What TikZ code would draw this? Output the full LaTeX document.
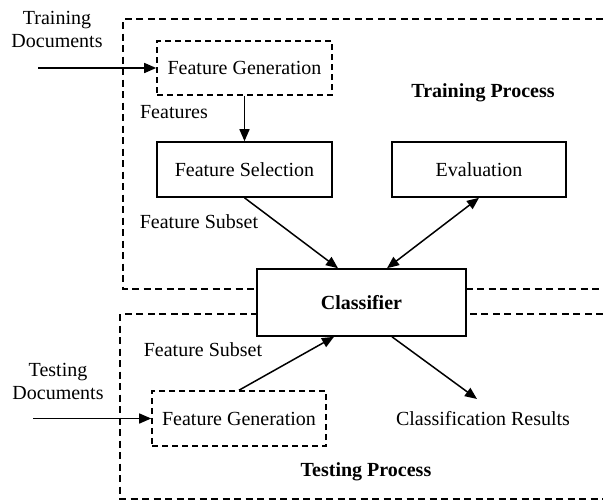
\documentclass[tikz,border=0pt]{standalone}
\usepackage{fontspec}
\setmainfont{Liberation Serif}
\usetikzlibrary{arrows.meta}

\tikzset{
  txt/.style={font=\fontsize{20}{23}\selectfont, inner sep=0pt},
  stepbox/.style={draw, line width=1.6pt, fill=white, font=\fontsize{20}{23}\selectfont, inner sep=0pt},
  dashbox/.style={stepbox, dash pattern=on 6pt off 4pt},
  region/.style={line width=1.6pt, dash pattern=on 7pt off 4.5pt},
  tip/.style={Triangle[length=12pt,width=10pt]},
  arr/.style={line width=1.5pt, -{Triangle[length=12pt,width=10pt]}},
  biarr/.style={line width=1.5pt, {Triangle[length=12pt,width=10pt]}-{Triangle[length=12pt,width=10pt]}}
}

\begin{document}
\begin{tikzpicture}[x=1pt, y=-1pt]
\clip (0,0) rectangle (603,501);
\fill[white] (0,0) rectangle (603,501);

% process regions (open to the right)
\draw[region] (603,19) -- (123,19) -- (123,289) -- (603,289);
\draw[region] (603,314) -- (120,314) -- (120,499) -- (603,499);

% training side
\node[dashbox, minimum width=175pt, minimum height=54pt] (fgA) at (244.5,68) {Feature Generation};
\node[stepbox, minimum width=175pt, minimum height=55pt] (fsel) at (244.5,169.5) {Feature Selection};
\node[stepbox, minimum width=174pt, minimum height=55pt] (eval) at (479,169.5) {Evaluation};

% classifier
\node[stepbox, minimum width=209pt, minimum height=67pt, font=\fontsize{20}{23}\selectfont\bfseries] (clsf) at (361.5,302.5) {Classifier};

% testing side
\node[dashbox, minimum width=174pt, minimum height=55pt] (fgB) at (239,418.5) {Feature Generation};

% labels
\node[txt, align=center] (trdocs) at (57,29.5) {Training\\[0pt]Documents};
\node[txt] (featlbl) at (174,112) {Features};
\node[txt] (subA) at (199,222) {Feature Subset};
\node[txt, font=\fontsize{20}{23}\selectfont\bfseries] (trproc) at (483,93) {Training Process};
\node[txt, align=center] (tedocs) at (58,381.5) {Testing\\[0pt]Documents};
\node[txt] (subB) at (203,350) {Feature Subset};
\node[txt] (res) at (483,419) {Classification Results};
\node[txt, font=\fontsize{20}{23}\selectfont\bfseries] (teproc) at (366,472) {Testing Process};

% inputs
\coordinate (trIn) at (38,68);
\coordinate (teIn) at (33,418.5);
\coordinate (resTip) at (477,399);

% connectors
\draw[arr] (trIn) -- (fgA.west);
\draw[arr] (fgA.south) -- (fsel.north);
\draw[arr] (fsel.south) -- ([xshift=-23.5pt]clsf.north);
\draw[biarr] (eval.south) -- ([xshift=25.5pt]clsf.north);
\draw[arr] (teIn) -- (fgB.west);
\draw[arr] (fgB.north) -- ([xshift=-27.5pt]clsf.south);
\draw[arr] ([xshift=30.5pt]clsf.south) -- (resTip);
\end{tikzpicture}
\end{document}
